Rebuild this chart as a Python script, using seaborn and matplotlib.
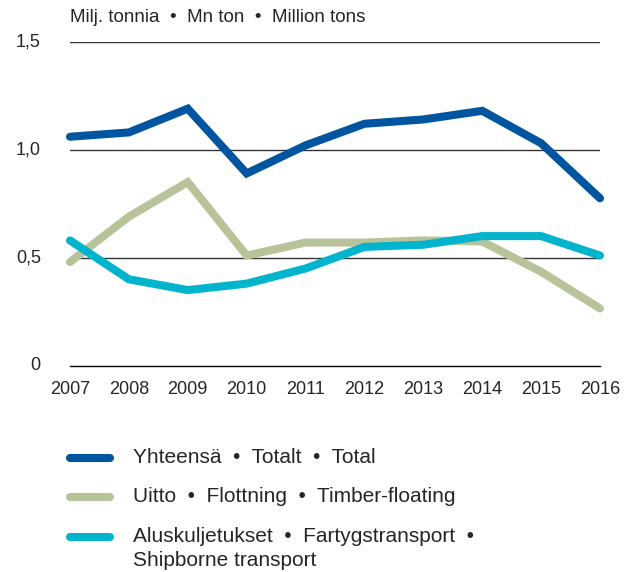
import pandas as pd
import matplotlib.pyplot as plt
import seaborn as sns
from matplotlib.lines import Line2D

# data (million tons)
years = [2007, 2008, 2009, 2010, 2011, 2012, 2013, 2014, 2015, 2016]
total = [1.06, 1.08, 1.19, 0.89, 1.02, 1.12, 1.14, 1.18, 1.03, 0.775]
floating = [0.48, 0.69, 0.85, 0.51, 0.57, 0.57, 0.58, 0.575, 0.435, 0.265]
shipborne = [0.58, 0.40, 0.35, 0.38, 0.45, 0.55, 0.56, 0.60, 0.60, 0.51]

series_names = ["Yhteensä  •  Totalt  •  Total",
                "Uitto  •  Flottning  •  Timber-floating",
                "Aluskuljetukset  •  Fartygstransport  •\nShipborne transport"]
colors = ["#0055a0", "#b8c39a", "#00b4cd"]
yticks = [0, 0.5, 1.0, 1.5]
ytick_labels = ["0", "0,5", "1,0", "1,5"]
unit_label = "Milj. tonnia  •  Mn ton  •  Million tons"

df = pd.DataFrame({
    "year": years * 3,
    "value": total + floating + shipborne,
    "series": [series_names[0]] * 10 + [series_names[1]] * 10 + [series_names[2]] * 10,
})

sns.set_style("white")
plt.rcParams["font.family"] = ["Liberation Sans", "DejaVu Sans"]

fig = plt.figure(figsize=(6.36, 5.72), dpi=100)
ax = fig.add_axes([70 / 636, (572 - 365.7) / 572, 530 / 636, 324 / 572])

sns.lineplot(data=df, x="year", y="value", hue="series", palette=colors,
             linewidth=5.8, ax=ax, legend=False, zorder=3)
for line in ax.lines:
    line.set_clip_on(False)
    line.set_solid_capstyle("round")
    line.set_solid_joinstyle("miter")

ax.set_xlim(2007, 2016)
ax.set_ylim(0, 1.5)
for v in yticks[1:]:
    ax.axhline(v, color="#333333", linewidth=1.0, zorder=1)

for s in ["top", "right", "left"]:
    ax.spines[s].set_visible(False)
ax.spines["bottom"].set_color("black")
ax.spines["bottom"].set_linewidth(1.0)

ax.set_xticks(years)
ax.set_xticklabels([str(y) for y in years], fontsize=13)
ax.tick_params(axis="x", direction="out", length=8, width=0.8, color="#555555", pad=3)
ax.set_yticks(yticks)
ax.set_yticklabels(ytick_labels, fontsize=13)
ax.tick_params(axis="y", length=0, pad=21)
for lbl in ax.get_yticklabels():
    lbl.set_verticalalignment("center")
    lbl.set_horizontalalignment("right")
ax.set_xlabel("")
ax.set_ylabel("")

fig.text(70 / 636, 1 - 18 / 572, unit_label, fontsize=13.5, va="center", ha="left")

# legend below the chart
rows_y = [458, 497, 537]
for name, c, y in zip(series_names, colors, rows_y):
    fy = 1 - y / 572
    fig.add_artist(Line2D([70 / 636, 110 / 636], [fy, fy], transform=fig.transFigure,
                          color=c, linewidth=5.8, solid_capstyle="round"))
    fig.text(133 / 636, fy + 10 / 572, name, fontsize=15, va="top", ha="left",
             linespacing=1.3)

fig.savefig("out.png", dpi=100)
